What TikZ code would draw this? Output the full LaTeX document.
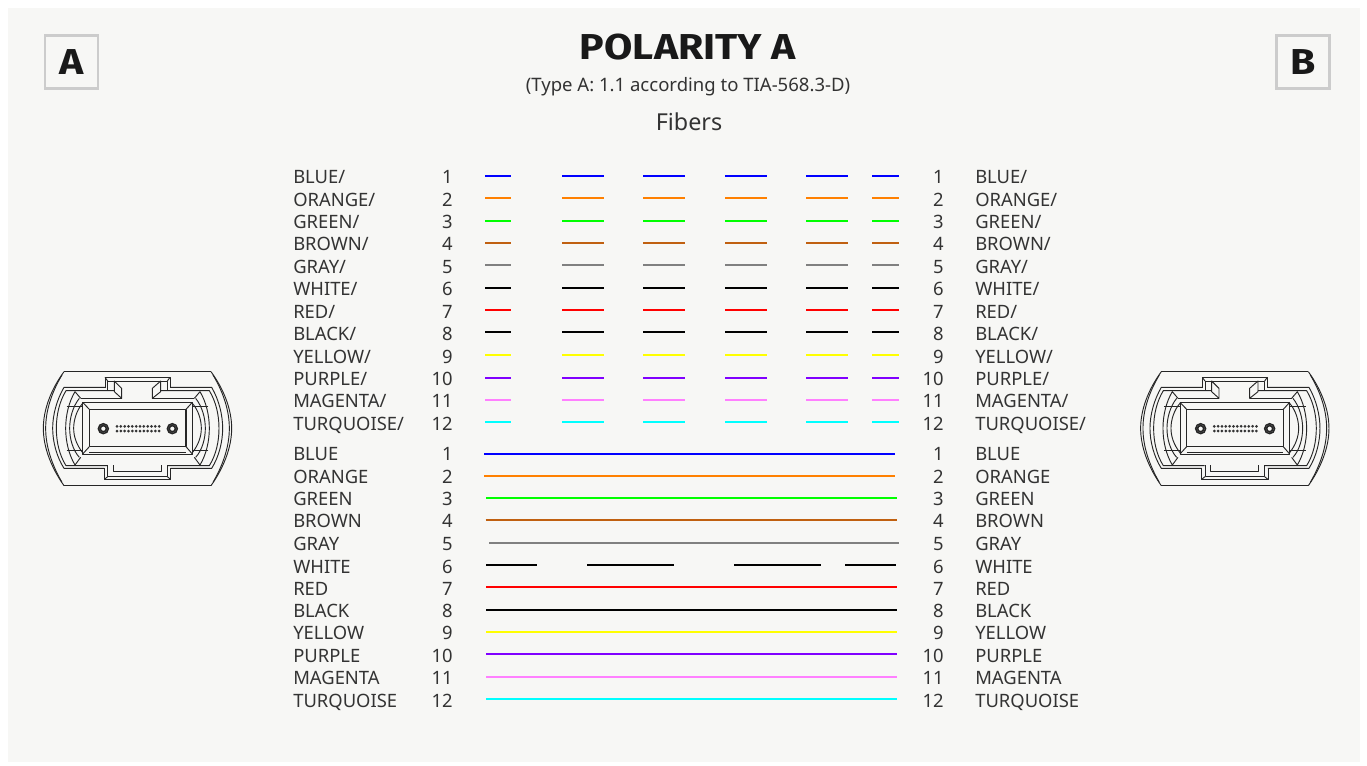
\documentclass[tikz,border=0pt]{standalone}
\usepackage{fontspec}
\setmainfont{Noto Sans}
\newfontfamily\headf[FakeStretch=1.14]{Fira Sans}
\definecolor{bgc}{HTML}{F7F7F5}
\definecolor{txt}{HTML}{333333}
\definecolor{cBlue}{HTML}{0000FF}
\definecolor{cOrange}{HTML}{FF8000}
\definecolor{cGreen}{HTML}{00FF00}
\definecolor{cBrown}{HTML}{C06010}
\definecolor{cGray}{HTML}{808080}
\definecolor{cRed}{HTML}{FF0000}
\definecolor{cBlack}{HTML}{000000}
\definecolor{cYellow}{HTML}{FFFF00}
\definecolor{cPurple}{HTML}{8000FF}
\definecolor{cMagenta}{HTML}{FF80FF}
\definecolor{cCyan}{HTML}{00FFFF}
\tikzset{
  lbl/.style={font=\fontsize{13.8}{15}\selectfont,text=txt,inner sep=0pt,anchor=base west,yshift=-0.6pt},
  num/.style={font=\fontsize{13.8}{15}\selectfont,text=txt,inner sep=0pt,anchor=base east,yshift=-0.6pt},
  fib/.style={line width=1.5pt},
  lab/.style={draw=black!20,line width=1.9pt,fill=none,minimum width=40pt,minimum height=39.5pt,inner sep=0pt,font=\headf\fontsize{27}{30}\selectfont\bfseries,text=black!90},
  con/.style={draw=black!85,line width=0.7pt,line join=round},
  conn/.pic={
    \begin{scope}[x=0.25pt,y=-0.25pt]
      % outer shell
      \draw[con] (102,35) -- (543,35) (102,377) -- (543,377);
      \draw[con] (102,35) .. controls (62,90) and (40,150) .. (40,205) .. controls (40,260) and (62,320) .. (102,377);
      \draw[con] (543,35) .. controls (583,90) and (605,150) .. (605,205) .. controls (605,260) and (583,320) .. (543,377);
      \draw[con] (96,45) .. controls (66,95) and (47,150) .. (47,205) .. controls (47,260) and (66,315) .. (96,367);
      \draw[con] (549,45) .. controls (579,95) and (598,150) .. (598,205) .. controls (598,260) and (579,315) .. (549,367);
      % inner housing
      \draw[con] (225,82) -- (102,82) .. controls (80,120) and (68,165) .. (68,205) .. controls (68,245) and (80,290) .. (102,325) -- (223,325);
      \draw[con] (420,82) -- (545,82) .. controls (567,120) and (578,165) .. (578,205) .. controls (578,245) and (567,290) .. (545,325) -- (422,325);
      \draw[con] (253,92) -- (108,92) .. controls (88,125) and (79,165) .. (79,205) .. controls (79,245) and (88,285) .. (108,317) -- (232,317);
      \draw[con] (392,92) -- (538,92) .. controls (558,125) and (567,165) .. (567,205) .. controls (567,245) and (558,285) .. (538,317) -- (413,317);
      % third arc with chevrons
      \draw[con] (152,115) -- (135,95) .. controls (117,125) and (107,165) .. (107,205) .. controls (107,245) and (117,285) .. (135,315) -- (152,292);
      \draw[con] (493,115) -- (510,95) .. controls (528,125) and (538,165) .. (538,205) .. controls (538,245) and (528,285) .. (510,315) -- (493,292);
      \draw[con] (148,115) .. controls (128,140) and (119,175) .. (119,205) .. controls (119,235) and (128,270) .. (148,292);
      \draw[con] (497,115) .. controls (517,140) and (526,175) .. (526,205) .. controls (526,235) and (517,270) .. (497,292);
      \draw[con] (158,130) .. controls (140,150) and (131,180) .. (131,205) .. controls (131,230) and (140,255) .. (158,278);
      \draw[con] (487,130) .. controls (505,150) and (514,180) .. (514,205) .. controls (514,230) and (505,255) .. (487,278);
      \draw[con] (110,140) -- (158,140) (110,270) -- (158,270) (535,140) -- (487,140) (535,270) -- (487,270);
      % top clip
      \draw[con] (225,84) -- (225,52) -- (420,52) -- (420,84);
      \draw[con] (233,92) -- (233,63) -- (412,63) -- (412,92);
      \draw[con] (225,52) -- (233,63) (420,52) -- (412,63);
      \draw[con] (253,63) -- (275,85) -- (275,115) -- (253,95) -- cycle;
      \draw[con] (392,63) -- (367,85) -- (367,115) -- (392,95) -- cycle;
      \draw[con] (275,115) -- (152,115) (367,115) -- (493,115);
      % central block
      \draw[con] (158,127) -- (487,127) -- (487,282) -- (158,282) -- cycle;
      \draw[con] (178,276) -- (468,276);
      \draw[con,line width=0.95pt] (178,148) -- (468,148) -- (468,260) -- (178,260) -- cycle;
      \draw[con] (158,127) -- (178,148) (487,127) -- (468,148) (158,282) -- (178,260) (487,282) -- (468,260);
      % bottom clip
      \draw[con] (223,325) -- (223,358) -- (422,358) -- (422,325);
      \draw[con] (233,316) -- (233,350) -- (412,350) -- (412,316);
      \draw[con] (250,316) -- (250,335) -- (394,335) -- (394,316);
      \draw[con] (223,358) -- (233,350) (422,358) -- (412,350);
      % guide pins
      \draw[con,line width=1.1pt] (220,206) circle[radius=15] circle[radius=9];
      \draw[con,line width=1.1pt] (427,206) circle[radius=15] circle[radius=9];
      % fibres
      \foreach \i in {0,...,11} {
        \fill[black!80] ({261+\i*11.5},199) circle[radius=4.5];
        \fill[black!80] ({261+\i*11.5},213) circle[radius=4.5];
      }
    \end{scope}
  }
}
\begin{document}
\begin{tikzpicture}[x=0.75pt,y=-0.75pt]
\useasboundingbox (0,0) rectangle (1367,765);
\fill[white] (0,0) rectangle (1367,765);
\fill[bgc] (8,8) rectangle (1360,762);
% badges
\node[lab] (badgeA) at (71.5,62) {A};
\node[lab] (badgeB) at (1303,62) {B};
% titles
\node[font=\headf\fontsize{27}{30}\selectfont\bfseries,text=black!90,inner sep=0pt] (title) at (688,47) {POLARITY A};
\node[font=\fontsize{13.9}{15}\selectfont,text=txt,inner sep=0pt] (subtitle) at (688,87) {(Type A: 1.1 according to TIA-568.3-D)};
\node[font=\fontsize{17.5}{20}\selectfont,text=txt,inner sep=0pt] (fibers) at (689,122) {Fibers};
% connectors
\pic at (30,360) {conn};
\pic at (1127.3,360) {conn};
% top group
\foreach \n/\name/\col/\y/\ly in {
 1/BLUE/cBlue/176/183, 2/ORANGE/cOrange/198/205.5, 3/GREEN/cGreen/221/228, 4/BROWN/cBrown/243/250,
 5/GRAY/cGray/265/273, 6/WHITE/cBlack/288/295, 7/RED/cRed/310/318, 8/BLACK/cBlack/332/340,
 9/YELLOW/cYellow/355/362.5, 10/PURPLE/cPurple/378/385, 11/MAGENTA/cMagenta/400/407, 12/TURQUOISE/cCyan/422/429.5} {
  \node[lbl] (tl\n) at (293,\ly) {\name/};
  \node[num] (tn\n) at (453,\ly) {\n};
  \node[num] (tm\n) at (944,\ly) {\n};
  \node[lbl] (tr\n) at (975,\ly) {\name/};
  \foreach \a/\b in {485/511,562/604,643/685,725/767,806/848,872/899}
    \draw[fib,\col] (\a,\y) -- (\b,\y);
}
% bottom group
\foreach \n/\name/\col/\y/\ly/\a/\b in {
 1/BLUE/cBlue/454/460/484/895, 2/ORANGE/cOrange/476/483/484/895, 3/GREEN/cGreen/498/505/486/897, 4/BROWN/cBrown/520/527/485.5/896.5,
 5/GRAY/cGray/543/550/489/899, 7/RED/cRed/587/595/486/897, 8/BLACK/cBlack/610/617/486/897,
 9/YELLOW/cYellow/632/639/486/897, 10/PURPLE/cPurple/654/662/486/897, 11/MAGENTA/cMagenta/677/684/486/897, 12/TURQUOISE/cCyan/699/707/486/897} {
  \node[lbl] (bl\n) at (293,\ly) {\name};
  \node[num] (bn\n) at (453,\ly) {\n};
  \node[num] (bm\n) at (944,\ly) {\n};
  \node[lbl] (br\n) at (975,\ly) {\name};
  \draw[fib,\col] (\a,\y) -- (\b,\y);
}
\node[lbl] (bl6) at (293,572.5) {WHITE};
\node[num] (bn6) at (453,572.5) {6};
\node[num] (bm6) at (944,572.5) {6};
\node[lbl] (br6) at (975,572.5) {WHITE};
\foreach \a/\b in {486/537,587/674,734/821,845/896}
  \draw[fib,black] (\a,565) -- (\b,565);
\end{tikzpicture}
\end{document}
